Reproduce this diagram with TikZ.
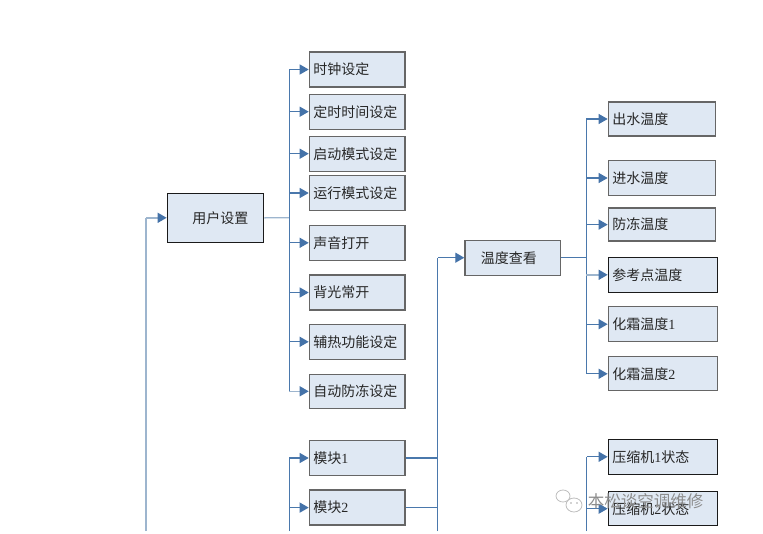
\documentclass[tikz,border=0pt]{standalone}
\usepackage{fontspec}
\setmainfont{Noto Sans CJK SC}
\newfontfamily\digitfont{Liberation Serif}
\usetikzlibrary{arrows.meta}
\definecolor{boxfill}{HTML}{DFE8F3}
\definecolor{boxline}{HTML}{666666}
\definecolor{darkline}{HTML}{1A1A1A}
\definecolor{linkblue}{HTML}{4A78AC}
\definecolor{tipblue}{HTML}{4472A8}
\definecolor{linkpale}{HTML}{9DB5CE}
\definecolor{marktext}{HTML}{8C8C8C}
\begin{document}
\begin{tikzpicture}[x=1pt,y=-1pt]
		\tikzstyle{every node}=[font=\fontsize{14pt}{17pt}\selectfont, text=black!85]
		\tikzstyle{menubox}=[draw=boxline, fill=boxfill, line width=1.3pt, inner xsep=4pt, inner ysep=0pt, align=left]
		\tikzstyle{darkbox}=[menubox, draw=darkline]
		\tikzstyle{link}=[draw=linkblue, line width=1.2pt]
		\tikzstyle{palelink}=[draw=linkpale, line width=1.4pt]
		\tikzstyle{tip}=[-{Triangle[length=9pt,width=10pt,color=tipblue,fill=tipblue]}, draw=linkblue, line width=1.2pt]
		\tikzstyle{paletip}=[tip, draw=linkpale, line width=1.4pt]

		\useasboundingbox (0,0) rectangle (763,533);

		\coordinate (rootfoot) at (146,531);
		\coordinate (usertrunk) at (289.3,217.7);
		\coordinate (modfoot) at (289.3,531);
		\coordinate (tempfoot) at (437.6,531);
		\coordinate (temptrunk) at (586.4,257.7);
		\coordinate (pressfoot) at (586.6,531);

		\node[darkbox, minimum height=49pt, text width=88.4pt] (user) at (215.5,217.8) {\hspace*{21pt}用户设置};

		\node[menubox, minimum height=35pt, text width=87.7pt] (clock) at (357.2,69.5) {时钟设定};
		\node[menubox, minimum height=35pt, text width=87.7pt] (timer) at (357.2,111.7) {定时时间设定};
		\node[menubox, minimum height=35pt, text width=87.7pt] (startmode) at (357.2,153.7) {启动模式设定};
		\node[menubox, minimum height=35pt, text width=87.7pt] (runmode) at (357.2,193) {运行模式设定};
		\node[menubox, minimum height=35pt, text width=87.7pt] (sound) at (357.2,242.8) {声音打开};
		\node[menubox, minimum height=35pt, text width=87.7pt] (backlight) at (357.2,292.5) {背光常开};
		\node[menubox, minimum height=35pt, text width=87.7pt] (heater) at (357.2,341.8) {辅热功能设定};
		\node[menubox, minimum height=34pt, text width=87.7pt] (antifreeze) at (357.2,391.3) {自动防冻设定};
		\node[menubox, minimum height=35pt, text width=87.7pt] (modone) at (357.2,458) {模块{\digitfont 1}};
		\node[menubox, minimum height=35pt, text width=87.7pt] (modtwo) at (357.2,507.6) {模块{\digitfont 2}};

		\node[menubox, minimum height=35pt, text width=87.7pt] (temp) at (512.8,257.7) {\hspace*{12pt}温度查看};

		\node[menubox, minimum height=34pt, text width=99.4pt] (outwater) at (662,119) {出水温度};
		\node[menubox, minimum height=35pt, text width=99.4pt] (inwater) at (662,178) {进水温度};
		\node[menubox, minimum height=33pt, text width=99.4pt] (frost) at (662,224.6) {防冻温度};
		\node[darkbox, minimum height=35pt, text width=101.4pt] (refpoint) at (663,274.8) {参考点温度};
		\node[menubox, minimum height=35pt, text width=101.4pt] (defrostone) at (663,324.2) {化霜温度{\digitfont 1}};
		\node[menubox, minimum height=34pt, text width=101.4pt] (defrosttwo) at (663,373.8) {化霜温度{\digitfont 2}};
		\node[darkbox, minimum height=35pt, text width=101.4pt] (pressone) at (663,456.8) {压缩机{\digitfont 1}状态};
		\node[darkbox, minimum height=34pt, text width=101.4pt] (presstwo) at (663,508.7) {压缩机{\digitfont 2}状态};

		\draw[palelink] (rootfoot) -- (rootfoot |- user.west);
		\draw[paletip] (rootfoot |- user.west) -- (user.west);

		\draw[palelink] (user.east) -- (usertrunk);
		\draw[link] (usertrunk |- clock.west) -- (usertrunk |- antifreeze.west);
		\draw[tip] (usertrunk |- clock.west) -- (clock.west);
		\draw[tip] (usertrunk |- timer.west) -- (timer.west);
		\draw[tip] (usertrunk |- startmode.west) -- (startmode.west);
		\draw[tip] (usertrunk |- runmode.west) -- (runmode.west);
		\draw[tip] (usertrunk |- sound.west) -- (sound.west);
		\draw[tip] (usertrunk |- backlight.west) -- (backlight.west);
		\draw[tip] (usertrunk |- heater.west) -- (heater.west);
		\draw[paletip] (usertrunk |- antifreeze.west) -- (antifreeze.west);

		\draw[link] (modfoot) -- (modfoot |- modone.west);
		\draw[tip] (modfoot |- modone.west) -- (modone.west);
		\draw[tip] (modfoot |- modtwo.west) -- (modtwo.west);

		\draw[link] (modone.east) -- (tempfoot |- modone.east);
		\draw[link] (modtwo.east) -- (tempfoot |- modtwo.east);
		\draw[link] (tempfoot) -- (tempfoot |- temp.west);
		\draw[tip] (tempfoot |- temp.west) -- (temp.west);

		\draw[link] (temp.east) -- (temptrunk);
		\draw[link] (temptrunk |- outwater.west) -- (temptrunk |- defrosttwo.west);
		\draw[tip] (temptrunk |- outwater.west) -- (outwater.west);
		\draw[tip] (temptrunk |- inwater.west) -- (inwater.west);
		\draw[tip] (temptrunk |- frost.west) -- (frost.west);
		\draw[paletip] (temptrunk |- refpoint.west) -- (refpoint.west);
		\draw[tip] (temptrunk |- defrostone.west) -- (defrostone.west);
		\draw[tip] (temptrunk |- defrosttwo.west) -- (defrosttwo.west);

		\draw[link] (pressfoot) -- (pressfoot |- pressone.west);
		\draw[tip] (pressfoot |- pressone.west) -- (pressone.west);
		\draw[tip] (pressfoot |- presstwo.west) -- (presstwo.west);

		% watermark
		\draw[line width=0.8pt, draw=black!25, fill=white] (563,496) ellipse (7pt and 6pt);
		\draw[line width=0.8pt, draw=black!25, fill=white] (574,505) ellipse (8pt and 7pt);
		\fill[black!35] (571,503) circle (0.9pt);
		\fill[black!35] (577,503) circle (0.9pt);
		\node[font=\fontsize{16.5pt}{20pt}\selectfont, text=marktext, inner sep=0pt] (mark) at (645.5,501) {本松谈空调维修};
\end{tikzpicture}
\end{document}
